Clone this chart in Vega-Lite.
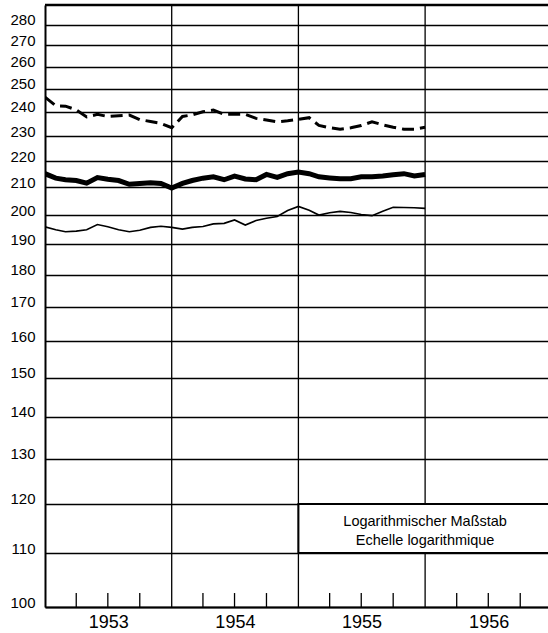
{
  "$schema": "https://vega.github.io/schema/vega-lite/v6.json",
  "autosize": {"type": "none"},
  "padding": {"left": 45, "top": 5, "right": 0, "bottom": 26},
  "width": 503,
  "height": 602,
  "background": "white",
  "config": {
    "view": {"stroke": null},
    "font": "Liberation Sans",
    "axis": {"labelFont": "Liberation Sans", "labelColor": "black"}
  },
  "datasets": {
    "series": [
      {"date": "1953-01-01", "A": 246.4, "B": 215.2, "C": 195.9},
      {"date": "1953-02-01", "A": 242.7, "B": 213.5, "C": 194.9},
      {"date": "1953-03-01", "A": 242.5, "B": 212.9, "C": 194.2},
      {"date": "1953-04-01", "A": 240.9, "B": 212.6, "C": 194.4},
      {"date": "1953-05-01", "A": 237.9, "B": 211.6, "C": 194.9},
      {"date": "1953-06-01", "A": 239.0, "B": 213.7, "C": 196.7},
      {"date": "1953-07-01", "A": 238.1, "B": 213.1, "C": 195.9},
      {"date": "1953-08-01", "A": 238.4, "B": 212.6, "C": 194.9},
      {"date": "1953-09-01", "A": 238.7, "B": 211.2, "C": 194.2},
      {"date": "1953-10-01", "A": 236.8, "B": 211.5, "C": 194.7},
      {"date": "1953-11-01", "A": 236.0, "B": 211.8, "C": 195.7},
      {"date": "1953-12-01", "A": 235.2, "B": 211.5, "C": 196.1},
      {"date": "1954-01-01", "A": 233.4, "B": 209.8, "C": 195.7},
      {"date": "1954-02-01", "A": 238.1, "B": 211.5, "C": 195.1},
      {"date": "1954-03-01", "A": 238.8, "B": 212.6, "C": 195.7},
      {"date": "1954-04-01", "A": 240.1, "B": 213.5, "C": 196.0},
      {"date": "1954-05-01", "A": 240.8, "B": 214.0, "C": 196.9},
      {"date": "1954-06-01", "A": 239.0, "B": 212.9, "C": 197.1},
      {"date": "1954-07-01", "A": 239.0, "B": 214.3, "C": 198.3},
      {"date": "1954-08-01", "A": 239.0, "B": 213.2, "C": 196.5},
      {"date": "1954-09-01", "A": 237.3, "B": 212.9, "C": 198.1},
      {"date": "1954-10-01", "A": 236.6, "B": 214.9, "C": 198.9},
      {"date": "1954-11-01", "A": 235.9, "B": 213.8, "C": 199.5},
      {"date": "1954-12-01", "A": 236.3, "B": 215.2, "C": 201.6},
      {"date": "1955-01-01", "A": 236.9, "B": 215.8, "C": 203.1},
      {"date": "1955-02-01", "A": 237.6, "B": 215.2, "C": 201.7},
      {"date": "1955-03-01", "A": 234.4, "B": 214.0, "C": 200.0},
      {"date": "1955-04-01", "A": 233.4, "B": 213.6, "C": 200.8},
      {"date": "1955-05-01", "A": 232.8, "B": 213.3, "C": 201.3},
      {"date": "1955-06-01", "A": 233.4, "B": 213.3, "C": 200.9},
      {"date": "1955-07-01", "A": 234.3, "B": 214.0, "C": 200.2},
      {"date": "1955-08-01", "A": 235.9, "B": 214.0, "C": 199.8},
      {"date": "1955-09-01", "A": 234.6, "B": 214.3, "C": 201.4},
      {"date": "1955-10-01", "A": 233.6, "B": 214.8, "C": 202.8},
      {"date": "1955-11-01", "A": 232.8, "B": 215.2, "C": 202.7},
      {"date": "1955-12-01", "A": 232.8, "B": 214.3, "C": 202.6},
      {"date": "1956-01-01", "A": 233.6, "B": 214.9, "C": 202.4}
    ],
    "yearLines": [
      {"date": "1954-01-01"},
      {"date": "1955-01-01"},
      {"date": "1956-01-01"}
    ],
    "quarters": [
      {"date": "1953-04-01"}, {"date": "1953-07-01"}, {"date": "1953-10-01"},
      {"date": "1954-04-01"}, {"date": "1954-07-01"}, {"date": "1954-10-01"},
      {"date": "1955-04-01"}, {"date": "1955-07-01"}, {"date": "1955-10-01"},
      {"date": "1956-04-01"}, {"date": "1956-07-01"}, {"date": "1956-10-01"}
    ],
    "note": [
      {"text": "Logarithmischer Maßstab\nEchelle logarithmique"}
    ]
  },
  "layer": [
    {
      "data": {"name": "series"},
      "mark": {"type": "line", "color": "black", "strokeWidth": 1.6, "clip": true},
      "encoding": {
        "x": {
          "field": "date", "type": "temporal",
          "scale": {
            "type": "utc", "nice": false,
            "domain": [
              {"year": 1953, "month": 1, "date": 1, "utc": true},
              {"year": 1956, "month": 12, "date": 20, "utc": true}
            ]
          },
          "axis": {
            "title": null,
            "values": [
              {"year": 1953, "month": 7, "date": 2, "utc": true},
              {"year": 1954, "month": 7, "date": 2, "utc": true},
              {"year": 1955, "month": 7, "date": 2, "utc": true},
              {"year": 1956, "month": 7, "date": 2, "utc": true}
            ],
            "labelExpr": "utcFormat(datum.value, '%Y')",
            "ticks": false,
            "grid": false,
            "domain": true,
            "domainColor": "black",
            "domainWidth": 2,
            "labelFontSize": 18,
            "labelPadding": 6,
            "labelFlush": false,
            "labelOverlap": false
          }
        },
        "y": {
          "field": "C", "type": "quantitative",
          "scale": {"type": "log", "domain": [100, 290], "nice": false},
          "axis": {
            "title": null,
            "values": [100, 110, 120, 130, 140, 150, 160, 170, 180, 190, 200, 210, 220, 230, 240, 250, 260, 270, 280],
            "format": "d",
            "grid": true,
            "gridColor": "black",
            "gridWidth": 1.3,
            "gridOpacity": 1,
            "ticks": false,
            "domain": true,
            "domainColor": "black",
            "domainWidth": 2,
            "labelFontSize": 15,
            "labelPadding": 10,
            "labelBaseline": "alphabetic",
            "labelFlush": false,
            "labelOverlap": false
          }
        }
      }
    },
    {
      "data": {"name": "series"},
      "mark": {"type": "line", "color": "black", "strokeWidth": 5, "clip": true},
      "encoding": {
        "x": {"field": "date", "type": "temporal"},
        "y": {"field": "B", "type": "quantitative"}
      }
    },
    {
      "data": {"name": "series"},
      "mark": {"type": "line", "color": "black", "strokeWidth": 3, "strokeDash": [12, 6], "clip": true},
      "encoding": {
        "x": {"field": "date", "type": "temporal"},
        "y": {"field": "A", "type": "quantitative"}
      }
    },
    {
      "data": {"name": "yearLines"},
      "mark": {"type": "rule", "color": "black", "strokeWidth": 1.3},
      "encoding": {
        "x": {"field": "date", "type": "temporal"}
      }
    },
    {
      "data": {"name": "quarters"},
      "mark": {"type": "rule", "color": "black", "strokeWidth": 1.3},
      "encoding": {
        "x": {"field": "date", "type": "temporal"},
        "y": {"datum": 100, "type": "quantitative"},
        "y2": {"datum": 102.5}
      }
    },
    {
      "data": {"values": [{}]},
      "mark": {"type": "rule", "color": "black", "strokeWidth": 2.5},
      "encoding": {
        "y": {"datum": 290, "type": "quantitative"}
      }
    },
    {
      "data": {"values": [{}]},
      "mark": {"type": "rect", "fill": "white", "stroke": "black", "strokeWidth": 2, "clip": true},
      "encoding": {
        "x": {"datum": {"year": 1955, "month": 1, "date": 1, "utc": true}, "type": "temporal"},
        "x2": {"datum": {"year": 1957, "month": 1, "date": 1, "utc": true}},
        "y": {"datum": 110, "type": "quantitative"},
        "y2": {"datum": 120}
      }
    },
    {
      "data": {"name": "note"},
      "mark": {"type": "text", "align": "center", "baseline": "middle", "fontSize": 14.5, "lineBreak": "\n", "lineHeight": 19, "dy": -9.5, "color": "black", "font": "Liberation Sans"},
      "encoding": {
        "x": {"datum": {"year": 1956, "month": 1, "date": 1, "utc": true}, "type": "temporal"},
        "y": {"datum": 114.3, "type": "quantitative"},
        "text": {"field": "text"}
      }
    }
  ]
}
